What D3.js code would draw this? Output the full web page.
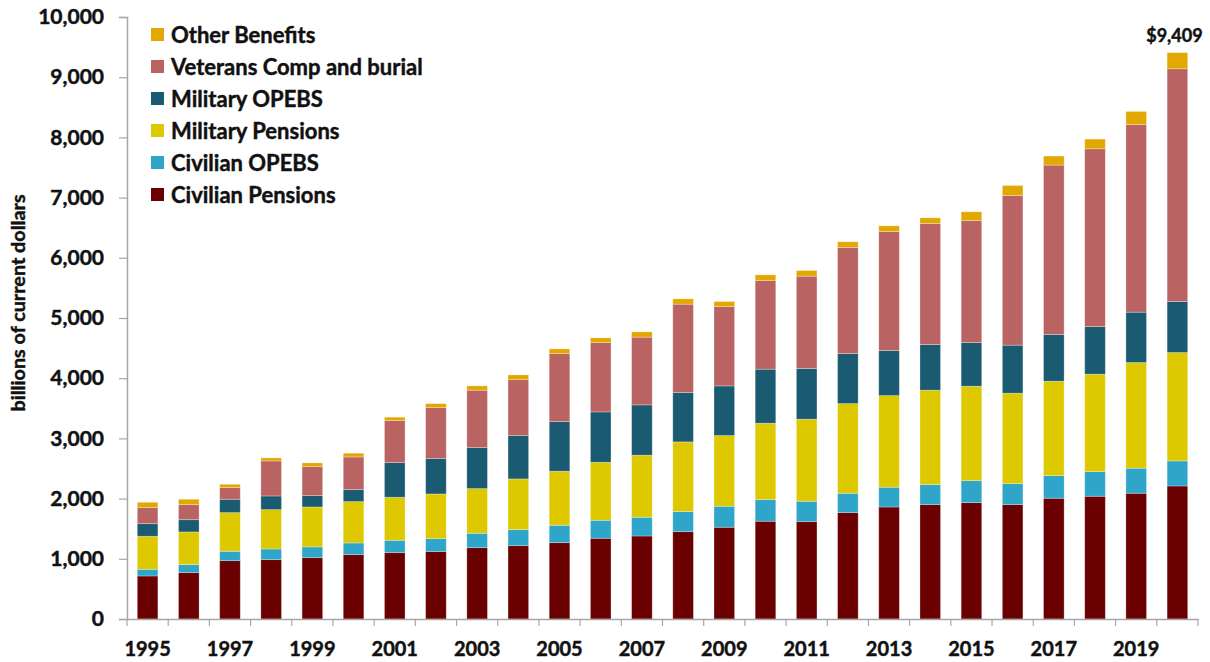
<!DOCTYPE html>
<html lang="en">
<head>
  <meta charset="UTF-8">
  <title>Federal retirement and veterans benefits</title>
  <script src="https://d3js.org/d3.v7.min.js"></script>
  <style>
    body { margin: 0; background: #fff; }
    svg text { font-family: Lato, "Open Sans", sans-serif; font-weight: bold; fill: #111; stroke: #111; stroke-width: 0.45px; }
  </style>
</head>
<body>
  <svg width="1210" height="662"></svg>

  <script>
    const years = d3.range(1995, 2021).map(String);

    // segment values, billions of current dollars (bottom to top)
    const civilianPensions = [715, 770, 969, 986, 1019, 1069, 1102, 1119, 1185, 1218, 1268, 1341, 1379,
      1451, 1524, 1624, 1617, 1767, 1861, 1900, 1933, 1900, 2006, 2039, 2089, 2210];
    const civilianOpebs = [111, 133, 156, 177, 178, 194, 206, 216, 239, 266, 289, 299, 311,
      333, 349, 359, 339, 322, 328, 332, 365, 349, 376, 409, 416, 416];
    const militaryPensions = [548, 543, 642, 654, 664, 687, 714, 742, 742, 843, 898, 964, 1031,
      1158, 1174, 1269, 1363, 1489, 1522, 1569, 1569, 1502, 1568, 1619, 1755, 1800];
    const militaryOpebs = [210, 204, 222, 227, 189, 199, 576, 587, 681, 720, 824, 836, 836,
      819, 825, 898, 841, 831, 748, 758, 725, 798, 775, 791, 837, 848];
    const veteransComp = [266, 250, 194, 582, 481, 543, 698, 848, 954, 930, 1130, 1152, 1125,
      1469, 1319, 1472, 1535, 1762, 1978, 2011, 2028, 2486, 2815, 2953, 3118, 3866];
    const otherBenefits = [89, 89, 55, 50, 62, 62, 56, 66, 71, 78, 78, 78, 88,
      88, 83, 95, 94, 95, 94, 94, 144, 166, 150, 161, 216, 269];

    const seriesNames = ["Civilian Pensions", "Civilian OPEBS", "Military Pensions",
      "Military OPEBS", "Veterans Comp and burial", "Other Benefits"];
    const seriesColors = ["#6b0000", "#2ea5c9", "#dec900", "#1b5b72", "#b96462", "#e2a800"];
    const yTicks = [0, 1000, 2000, 3000, 4000, 5000, 6000, 7000, 8000, 9000, 10000];
    const xLabels = years.filter((d, i) => i % 2 === 0 && d !== "2020");
    const totalLabel = "$9,409";

    const seriesValues = [civilianPensions, civilianOpebs, militaryPensions,
      militaryOpebs, veteransComp, otherBenefits];
    const table = years.map((yr, i) => {
      const row = { year: yr };
      seriesNames.forEach((s, k) => { row[s] = seriesValues[k][i]; });
      return row;
    });

    const plotLeft = 127, plotRight = 1198, plotTop = 17, plotBottom = 619;
    const svg = d3.select("svg");

    const x = d3.scaleBand()
      .domain(years)
      .range([plotLeft, plotRight])
      .paddingInner(0.5)
      .paddingOuter(0.25);

    const y = d3.scaleLinear()
      .domain([0, 10000])
      .range([plotBottom, plotTop]);

    const stacked = d3.stack().keys(seriesNames)(table);

    // bars
    svg.append("g")
      .selectAll("g")
      .data(stacked)
      .join("g")
      .attr("fill", (d, i) => seriesColors[i])
      .selectAll("rect")
      .data(d => d)
      .join("rect")
      .attr("x", d => x(d.data.year))
      .attr("y", d => y(d[1]))
      .attr("width", x.bandwidth())
      .attr("height", d => y(d[0]) - y(d[1]))
      .attr("stroke", "rgba(255,255,255,0.35)")
      .attr("stroke-width", 0.8);

    // y axis
    const yAxis = svg.append("g")
      .attr("transform", `translate(${plotLeft},0)`)
      .call(d3.axisLeft(y).tickValues(yTicks).tickFormat(d3.format(",")).tickSize(8).tickPadding(15));
    yAxis.select(".domain").attr("stroke", "#a6a6a6").attr("stroke-width", 1.5);
    yAxis.selectAll(".tick line").attr("stroke", "#a6a6a6").attr("stroke-width", 1.2);
    yAxis.selectAll("text").style("font-size", "21px");

    // x axis
    const xAxis = svg.append("g")
      .attr("transform", `translate(0,${plotBottom})`)
      .call(d3.axisBottom(x).tickValues(xLabels).tickSize(0).tickPadding(23));
    xAxis.select(".domain").attr("stroke", "#a6a6a6").attr("stroke-width", 1.5);
    xAxis.selectAll("text").style("font-size", "20px");

    // category boundary ticks
    const step = x.step();
    svg.append("g")
      .selectAll("line")
      .data(d3.range(years.length + 1))
      .join("line")
      .attr("x1", i => plotLeft + i * step)
      .attr("x2", i => plotLeft + i * step)
      .attr("y1", plotBottom)
      .attr("y2", plotBottom + 7)
      .attr("stroke", "#a6a6a6")
      .attr("stroke-width", 1.2);

    // y axis title
    svg.append("text")
      .attr("transform", `translate(25,${(plotTop + plotBottom) / 2 - 15}) rotate(-90)`)
      .attr("text-anchor", "middle")
      .style("font-size", "19.8px")
      .text("billions of current dollars");

    // total label
    const last = years[years.length - 1];
    svg.append("text")
      .attr("x", x(last) + x.bandwidth() / 2 - 3)
      .attr("y", y(d3.sum(seriesValues, s => s[s.length - 1])) - 11)
      .attr("text-anchor", "middle")
      .style("font-size", "18px")
      .text(totalLabel);

    // legend (top entry = last series)
    const legend = svg.append("g")
      .selectAll("g")
      .data(seriesNames.map((n, i) => ({ n, c: seriesColors[i] })).reverse())
      .join("g")
      .attr("transform", (d, i) => `translate(151,${35 + i * 32})`);
    legend.append("rect")
      .attr("x", 0).attr("y", -7)
      .attr("width", 13).attr("height", 13)
      .attr("fill", d => d.c);
    legend.append("text")
      .attr("x", 20).attr("y", 0)
      .attr("dy", "0.35em")
      .style("font-size", "22px")
      .text(d => d.n);
  </script>
</body>
</html>
